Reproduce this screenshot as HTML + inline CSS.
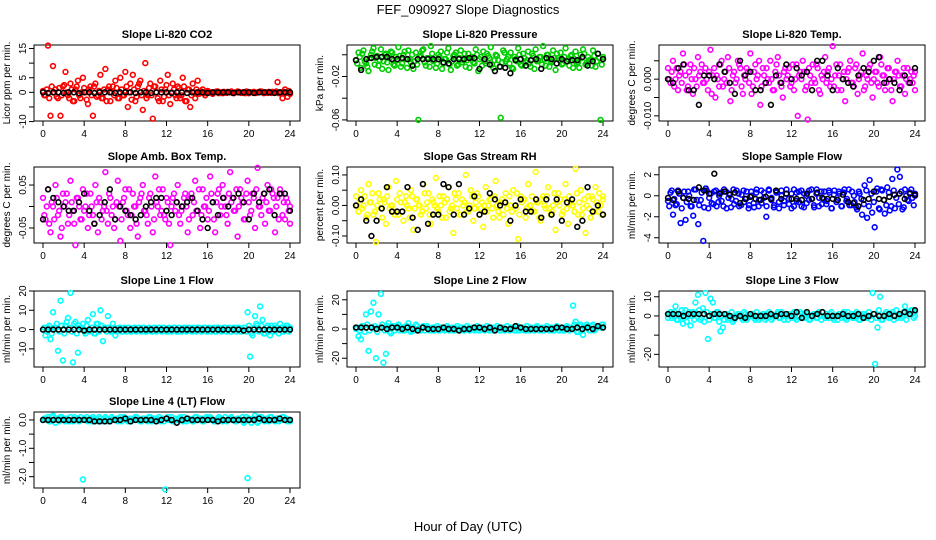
<!DOCTYPE html>
<html><head><meta charset="utf-8"><style>
body{margin:0;background:#fff}
svg{display:block;font-family:"Liberation Sans",sans-serif}
</style></head><body>
<svg id="chart" width="936" height="540" xmlns="http://www.w3.org/2000/svg">
<text x="468" y="14" text-anchor="middle" font-size="13">FEF_090927  Slope Diagnostics</text>
<text x="468" y="531" text-anchor="middle" font-size="13">Hour of Day (UTC)</text>
</svg>
<script>
const hourTicks = [0,4,8,12,16,20,24];
const co2Vals = [0.5,-1,16,-8,9,1,-2,-8,2,7,-1,3,-3,1,4,-2,5,0,-4,2,-8,3,-1,6,-2,8,1,-3,2,4,-2,5,-1,7,-5,3,6,-3,2,4,-6,10,-1,3,-9,2,-2,4,-3,1,6,-4,3,-1,2,-2,5,-3,1,-5,3,-2,4,0,1,-1,0.5,0,-0.5,0,0.3,0,-0.3,0,0.2,0,-0.2,0,0.3,0,0,-0.3,0.2,0,0,-0.2,0,0.3,0,0,-0.2,0,0.2,0,3.5,0,-2,1,-1.5,0];
const co2Vals2 = [-1,1,-2,2,0,-1.5,1.5,-1,2.5,0,-2,1,-3,2,-1,0,1.5,-2.5,1,-1,2,-1.5,0.5,-2,1,-3,2,0,-1,1.5,-2,1,-1,2,0,-2.5,1,-1.5,3,-1,0.5,-2,1.5,-1,2,0,-3,1,-1.5,2.5,-1,0,1,-2,1.5,-1,2,-3,1,-1,0,1,-0.5,0.3,-0.3,0,0.2,-0.2,0,0.3,-0.3,0,0.2,-0.2,0,0.3,-0.3,0,0.2,-0.2,0,0.3,-0.3,0,0.2,-0.2,0,0.3,-0.3,0,0.2,-0.2,0,0.3,-0.3,0,0.2,-0.2,0.5,-0.5];
const co2Black = [0,-0.2,0,0,-0.2,0,0,-0.3,0,0,-0.2,0,0,0,-0.2,0,0,0,-0.2,0,0,-0.2,0,0,0,-0.2,0,0,-0.2,0,0,0,-0.2,0,0,0,0,-0.2,0,0,0,-0.2,0,0,0,-0.2,0,0,0];
const presVals = [-5,2,-12,4,-8,-15,0,6,-3,-10,5,-6,1,-14,3,-9,-2,7,-11,0,-4,4,-7,-13,2,-60,-1,5,-10,-3,8,-6,-12,0,3,-8,-4,6,-14,-1,2,-9,4,-5,-11,1,-3,-7,5,-15,-2,3,-8,-1,7,-12,0,-5,-58,4,-6,-2,2,-13,-4,6,-9,1,-7,3,-11,-1,5,-5,-2,8,-10,0,-6,4,-14,-3,2,-8,6,-4,-1,-12,3,-7,0,5,-9,-2,-5,4,-11,1,-60,-4];
const presVals2 = [-8,-2,1,-6,-11,-3,3,-9,-1,-5,-13,0,-7,-3,2,-10,-5,-1,-8,3,-12,-4,0,-6,-9,-2,4,-7,-3,-11,1,-5,-8,-2,-13,-4,2,-9,-6,0,-10,-3,-7,1,-5,-12,-2,-8,0,-4,-10,-6,1,-3,-9,-5,-1,-11,-7,2,-4,-8,-12,-2,-6,0,-10,-3,-5,-8,1,-13,-6,-2,-9,-4,0,-11,-7,-3,1,-5,-9,-2,-6,-10,0,-4,-8,-12,-3,1,-7,-5,-10,-1,-6,-3,-9,-2];
const presBlack = [-5,-14,-4,-3,-2,-2,-2,-4,-4,-3,-4,-10,-4,-4,-4,-4,-4,-7,-8,-4,-4,-4,-3,-3,-13,-4,-9,-15,-11,-12,-17,-5,-4,-10,-5,-4,-13,-3,-4,-8,-4,-6,-5,-5,-2,-10,-6,1,-4];
const tempVals = [3,-1,5,0,-3,2,7,1,-2,4,-4,0,6,2,-1,3,-3,8,1,-5,0,4,-2,2,6,-6,1,-1,5,3,-4,0,2,7,-2,4,1,-7,3,-1,0,5,-3,2,6,-1,-5,3,1,-2,4,0,-10,2,5,-3,-11,1,4,-1,3,-4,0,6,2,-2,9,1,-3,4,0,-6,2,5,-1,3,-4,1,7,-2,0,4,-5,2,-1,6,1,-3,3,0,-6,2,5,-2,1,-4,3,0,-1,2];
const tempVals2 = [0,2,-2,3,1,-1,4,-3,2,0,3,-2,1,4,-1,0,2,-4,3,1,-2,5,0,-1,3,-3,2,0,4,-2,1,3,-1,-4,2,0,5,-2,1,3,-1,0,-3,4,1,-2,2,0,3,-1,-3,4,1,0,2,-2,3,-1,0,4,-3,1,2,-1,3,0,-2,4,1,-3,2,0,3,-1,-2,4,0,2,-3,1,3,-1,0,2,-2,4,1,-1,3,-3,0,2,1,-2,3,0,-1,2,1,-3];
const tempBlack = [0,-1,3,4,-3,-3,-7,1,1,0,4,2,-1,-4,5,1,2,-3,-3,-1,-7,1,-1,4,0,3,1,2,-3,5,5,1,-3,3,0,-1,-2,1,3,2,5,6,-1,0,-1,-3,1,-1,3];
const ambVals = [2,-3,4,-6,0,5,-2,-7,3,1,-4,6,-1,-9,2,-3,4,0,-5,3,-2,5,-6,1,-1,8,-4,2,0,-3,6,-8,1,4,-2,-5,3,0,-7,2,5,-1,-4,3,-6,7,0,-2,4,-3,1,-9,2,-1,5,-4,0,3,-6,2,-2,6,-1,-5,4,0,-3,7,1,-6,3,-2,5,0,-4,8,2,-1,-7,4,1,-3,6,-2,3,-5,9,0,2,-4,5,-1,3,-6,2,4,-2,-3,1,-4];
const ambVals2 = [-2,0,-4,1,-3,2,-1,-5,0,3,-2,1,-4,2,0,-3,-1,3,-2,0,-4,1,2,-3,0,-1,3,-2,-5,1,0,-3,2,-1,4,-2,0,-4,1,3,-1,-2,2,0,-3,1,4,-1,-2,2,-4,0,3,1,-2,-1,2,0,-3,3,1,-1,4,-2,0,2,-1,3,-3,1,4,0,2,-2,3,1,-1,4,0,2,-3,3,1,-1,2,4,0,-2,3,1,-1,4,2,0,-3,3,1,2,-1,0];
const ambBlack = [-3,4,2,1,0,-1,-1,1,3,-1,-4,-2,1,4,-3,0,-1,-2,-3,-2,0,1,2,2,-1,-2,1,0,1,2,-1,-3,-5,1,-2,2,0,2,3,1,-3,3,1,3,4,-2,3,3,-1];
const rhVals = [3,-2,5,0,-4,7,1,-3,-12,4,-1,2,-6,6,0,-2,8,-3,1,-5,3,-1,5,-8,2,0,-3,7,-1,4,-6,1,9,-2,0,3,-4,6,-1,-9,2,4,-3,0,10,-2,5,-5,1,3,-1,-7,6,0,2,-4,8,-2,1,-3,4,-6,0,5,-1,-11,3,2,-4,7,0,-2,11,1,-5,3,-1,6,-3,0,-8,4,2,-2,7,-6,1,0,12,-3,5,-1,-9,3,-4,2,6,-2,0,3];
const rhVals2 = [0,2,-1,3,-3,1,4,-2,0,2,-4,1,3,-1,0,-3,2,4,-2,1,0,-4,3,-1,2,0,-2,4,1,-3,2,0,-1,3,-4,1,2,-2,0,4,-1,-3,2,1,-2,0,3,-1,4,-3,1,0,-2,2,-1,3,0,-4,2,1,-1,3,-2,0,4,-3,1,2,-1,0,3,-2,1,-4,2,0,3,-1,-2,4,1,0,-3,2,-1,3,0,-2,4,1,-3,2,0,-1,3,-2,1,4,-3,2];
const rhBlack = [0,2,-5,-10,-5,-1,6,-2,-2,-2,6,-4,-8,7,-6,-3,-3,7,6,-3,7,-3,-1,3,-3,-2,4,2,0,1,-5,0,2,-2,-2,2,-4,2,-3,2,-5,1,2,-7,-5,6,-2,0,-3];
const sampVals = [-0.5,0.3,-1.8,-0.9,0.5,-2.6,-0.2,-2.3,0.4,-1,-1.9,0.6,-2.7,-0.4,-4.3,0.7,-1.2,0.2,-0.8,0.5,-0.6,0.3,-1,0.4,-0.2,-1.1,0.6,-0.5,0.2,-0.9,0.5,-0.3,-1.2,0.4,-0.7,0.3,-1,0.5,-0.2,-2,0.6,-0.4,-1.1,0.3,-0.6,0.5,-0.9,0.2,-0.3,-1.2,0.6,-0.5,0.4,-1,0.2,-0.7,0.5,-0.3,-1.1,0.6,-0.2,-0.8,0.4,-0.5,0.3,-1.2,0.5,-0.4,0.2,-1,0.6,-0.3,-0.9,0.4,-0.6,-1.3,0.2,-1.8,1,-2.1,1.5,-1.6,-3,0.7,-1.3,0.5,-1.7,0.8,-1.4,1.6,-1.2,2.5,1.8,-1.3,0.6,-0.4,0.3,-0.2,0];
const sampVals2 = [-1,0.5,-0.3,-0.8,0.2,-1.2,0.4,-0.6,0,-1,0.6,-0.4,-0.9,0.3,-1.1,0.5,-0.2,-0.7,0.4,-1,0,-0.5,0.6,-1.2,0.2,-0.3,-0.8,0.5,-1,0.1,-0.6,0.4,-0.9,0,-1.1,0.6,-0.4,-0.7,0.3,-1,0.5,-0.2,-0.9,0.4,-1.2,0,-0.5,0.6,-0.8,0.2,-1,0.3,-0.6,0.5,-1.1,0,-0.4,0.6,-0.9,0.2,-1,0.4,-0.3,-0.8,0.5,-1.2,0.1,-0.6,0.4,-1,0.3,-0.5,0.6,-0.9,0,-1.1,0.4,-0.3,-0.8,0.5,-1,0.2,-0.6,0.4,-1.2,0.6,-0.4,-0.9,0.3,-1,0.5,-0.2,-0.8,0.4,-1.1,0,-0.5,0.6,-0.9,0.2];
const sampBlack = [-0.2,-0.4,0.4,-0.2,-0.3,-0.4,0.8,0.5,0.2,2.1,0.2,0.4,0.1,0.3,-0.7,-0.3,-0.1,-0.3,-0.4,-0.1,-0.3,0.5,-0.3,0.2,-0.3,-0.3,-0.4,0.2,-0.3,0.3,-0.2,-0.3,-0.3,-0.4,0.1,-0.6,-0.7,-1,-0.4,-0.3,0.4,-0.3,-0.4,-0.1,0.1,0.2,-0.3,0.2,0.1];
const line1Vals = [0,-3,1,-5,9,1,-11,15,-16,2,6,19,-17,4,-12,1,3,-2,5,0,8,-2,3,10,-6,1,7,-1,3,-3,0,1,-1,0.5,1,-1,0,1,-0.5,0,1,-1,0,0.5,-1,1,0,-0.5,1,0,-1,0.5,0,1,-1,0,0.5,-0.5,1,0,-1,0,1,-0.5,0,1,-1,0.5,0,-1,1,0,-0.5,1,0,-1,0.5,0,1,-1,0,1,9,-14,-3,7,2,12,5,-2,2,-3,1,2,0,3,-1,1,2,0];
const line1Vals2 = [1,-1,2,-2,1,3,-1,2,-2,4,1,-1,3,-2,2,1,-1,2,-1,1,-2,3,-1,2,1,-1,1,-1,1,-1,1,-1,1,-1,1,-1,1,-1,1,-1,1,-1,1,-1,1,-1,1,-1,1,-1,1,-1,1,-1,1,-1,1,-1,1,-1,1,-1,1,-1,1,-1,1,-1,1,-1,1,-1,1,-1,1,-1,1,-1,1,-1,1,-1,2,-2,1,3,-1,2,-2,1,-1,2,-1,1,-2,1,-1,2,-1,1];
const line1Black = [0,0,0,0,0,0,0,0,-0.5,0,0,0,0,0,0,0,0,0,0,0,0,0,0,0,0,0,0,0,0,0,0,0,0,0,0,0,0,0,0,-0.5,0,0,0,0,0,0,0,0,0];
const line2Vals = [0,-5,-7,2,10,-15,12,18,-20,10,24,-23,-17,4,-3,2,1,3,0,-1,2,4,-2,1,3,0,-1,2,1,0,-1,1,0.5,-1,1,0,-0.5,1,0,-1,0.5,0,1,-1,0,0.5,-0.5,1,0,-1,0,1,-0.5,0,1,-1,0.5,0,-1,1,0,-0.5,1,0,-1,0.5,0,1,-1,0,1,-0.5,0,1,0,-1,0.5,0,1,-1,0,1,0,-1,0,1,0,16,5,-2,3,-4,1,2,-1,3,0,2,1,3];
const line2Vals2 = [1,-1,2,-2,3,-1,1,2,-2,1,3,-1,2,-2,1,-1,2,-1,1,-1,2,-1,1,-1,2,-1,1,-1,2,-1,1,-1,2,-1,1,-1,2,-1,1,-1,2,-1,1,-1,2,-1,1,-1,2,-1,1,-1,2,-1,1,-1,2,-1,1,-1,2,-1,1,-1,2,-1,1,-1,2,-1,1,-1,2,-1,1,-1,2,-1,1,-1,2,-1,1,-1,2,-1,1,3,-2,2,-1,1,3,-1,2,-1,1,2,3,1];
const line2Black = [1,1,1,1,0,1,0,1,1,0,1,0,-1,1,0,0,0,1,0,0,-1,0,0,1,1,0,1,-1,1,0,0,2,1,0,0,0,0,0,0,1,1,0,0,1,0,1,0,2,1];
const line3Vals = [-1,2,0,5,-2,1,-4,3,0,-5,2,7,11,-2,4,12,-12,9,7,-1,2,-8,-6,1,-2,0,-3,-1,1,0,-2,1,-1,0,1,-2,0,-1,1,-2,0,1,-1,0,2,-1,0,1,-2,0,1,-1,0,2,-1,0,1,-2,0,1,-1,0,2,-1,0,1,-1,0,-2,1,0,-1,2,0,-1,1,0,-2,1,0,-1,0,12,-25,-6,10,-2,1,0,-1,2,0,-1,1,0,5,2,1,3,0];
const line3Vals2 = [1,-1,2,-2,1,3,-1,-3,2,0,-2,1,3,-1,-3,2,-2,1,-1,2,-3,0,-2,1,-1,2,-2,0,1,-1,2,-2,0,1,-1,2,-2,0,1,-1,2,-2,0,1,-1,2,-2,0,1,-1,2,-2,0,1,-1,2,-2,0,1,-1,2,-2,0,1,-1,2,-2,0,1,-1,2,-2,0,1,-1,2,-2,0,1,-1,2,-2,1,-1,3,-2,0,2,-1,1,-2,3,0,-1,2,-2,1,3,-1,2];
const line3Black = [1,1,1,0,1,1,1,1,0,1,1,1,0,-1,0,-1,1,0,0,0,1,0,1,1,0,2,-1,2,0,1,2,0,0,0,1,0,0,1,-1,0,1,0,0,1,0,1,2,1,3];
const line4Vals = [0,0.05,0.1,-0.05,0.15,-0.1,0,0.1,0.05,-0.05,0,0.1,-0.05,0,0.05,0.1,-2.1,0,-0.05,0.05,0.1,0,-0.05,0.05,0,0.1,-0.05,0,0.05,0,-0.05,0.1,0.05,0,-0.05,0.05,0,0.1,0,-0.05,0.05,0,-0.05,0.1,0,0.05,0,-0.05,0.05,-2.45,0.1,0,-0.05,0.05,0,0.1,-0.05,0,0.05,0,-0.05,0.1,0,0.05,-0.05,0,0.05,0.1,0,-0.05,0.05,0,-0.05,0.1,0,0.05,0,-0.05,0.05,0,0.1,-0.05,-2.05,0,0.05,0.15,-0.1,0.1,0,-0.05,0.05,0.1,0,-0.05,0.05,0,0.1,0,-0.05,0];
const line4Vals2 = [0.05,0,-0.05,0.1,0,0.05,-0.05,0.1,0,0.05,-0.05,0,0.1,0.05,-0.05,0,0.05,0.1,0,-0.05,0.05,0,0.1,-0.05,0.05,0,-0.05,0.1,0,0.05,0,-0.05,0.1,0.05,0,-0.05,0.05,0.1,0,-0.05,0.05,0,0.1,-0.05,0,0.05,0.1,0,-0.05,0.05,0,0.1,-0.05,0,0.05,0,0.1,-0.05,0.05,0,-0.05,0.1,0,0.05,-0.05,0.1,0,0.05,-0.05,0,0.1,0.05,0,-0.05,0.05,0.1,0,-0.05,0.05,0,-0.1,0.1,0.05,-0.1,0,0.05,-0.05,0.1,0,0.05,-0.05,0.1,0,0.05,-0.05,0,0.1,0.05,0,-0.05];
const line4Black = [0,0,0,0,0,0,0,0,0,0,-0.05,-0.05,-0.05,-0.05,0,0,0.05,-0.05,0,0,0,0,-0.05,0,0.05,0,-0.1,0,0.05,0,0,0,0,0,-0.05,0,0,0,0,0,0,0,0.05,0,0,0,0.05,0,0];

const panels = [
 {name:'co2',title:'Slope Li-820 CO2',ylab:'Licor ppm per min.',col:0,row:0,color:'#ff0000',vals:co2Vals,vals2:co2Vals2,black:co2Black,scale:1,ymin:-9.8,ymax:16.2,ticks:[-10,-5,0,5,10,15],labels:{'-10':'-10','0':'0','5':'5','15':'15'}},
 {name:'pressure',title:'Slope Li-820 Pressure',ylab:'kPa per min.',col:1,row:0,color:'#00cd00',vals:presVals,vals2:presVals2,black:presBlack,scale:0.001,ymin:-0.061,ymax:0.009,ticks:[-0.06,-0.04,-0.02,0],labels:{'-0.06':'-0.06','-0.02':'-0.02'}},
 {name:'temp',title:'Slope Li-820 Temp.',ylab:'degrees C per min.',col:2,row:0,color:'#ff00ff',vals:tempVals,vals2:tempVals2,black:tempBlack,scale:0.001,ymin:-0.0114,ymax:0.0093,ticks:[-0.01,-0.005,0,0.005],labels:{'-0.01':'-0.010','0':'0.000'}},
 {name:'amb-temp',title:'Slope Amb. Box Temp.',ylab:'degrees C per min.',col:0,row:1,color:'#ff00ff',vals:ambVals,vals2:ambVals2,black:ambBlack,scale:0.01,ymin:-0.085,ymax:0.092,ticks:[-0.05,0,0.05],labels:{'-0.05':'-0.05','0.05':'0.05'}},
 {name:'rh',title:'Slope Gas Stream RH',ylab:'percent per min.',col:1,row:1,color:'#ffff00',vals:rhVals,vals2:rhVals2,black:rhBlack,scale:0.01,ymin:-0.123,ymax:0.126,ticks:[-0.1,-0.05,0,0.05,0.1],labels:{'-0.1':'-0.10','0':'0.00','0.1':'0.10'}},
 {name:'sample-flow',title:'Slope Sample Flow',ylab:'ml/min per min.',col:2,row:1,color:'#0000ff',vals:sampVals,vals2:sampVals2,black:sampBlack,scale:1,ymin:-4.5,ymax:2.74,ticks:[-4,-2,0,2],labels:{'-4':'-4','-2':'-2','0':'0','2':'2'}},
 {name:'line1',title:'Slope Line 1 Flow',ylab:'ml/min per min.',col:0,row:2,color:'#00ffff',vals:line1Vals,vals2:line1Vals2,black:line1Black,scale:1,ymin:-19.4,ymax:20,ticks:[-10,0,10,20],labels:{'-10':'-10','0':'0','10':'10','20':'20'}},
 {name:'line2',title:'Slope Line 2 Flow',ylab:'ml/min per min.',col:1,row:2,color:'#00ffff',vals:line2Vals,vals2:line2Vals2,black:line2Black,scale:1,ymin:-26,ymax:26,ticks:[-20,-10,0,10,20],labels:{'-20':'-20','0':'0','20':'20'}},
 {name:'line3',title:'Slope Line 3 Flow',ylab:'ml/min per min.',col:2,row:2,color:'#00ffff',vals:line3Vals,vals2:line3Vals2,black:line3Black,scale:1,ymin:-26.6,ymax:13,ticks:[-20,-10,0,10],labels:{'-20':'-20','0':'0','10':'10'}},
 {name:'line4',title:'Slope Line 4 (LT) Flow',ylab:'ml/min per min.',col:0,row:3,color:'#00ffff',vals:line4Vals,vals2:line4Vals2,black:line4Black,scale:1,ymin:-2.4,ymax:0.28,ticks:[-2,-1.5,-1,-0.5,0],labels:{'-2':'-2.0','-1':'-1.0','0':'0.0'}}
];

const NS='http://www.w3.org/2000/svg';
const svg=document.getElementById('chart');
const colLeft=[34,347,659], rowTop=[45,167,291,412], W=266, H=76;
function mk(tag,attrs,parent){const e=document.createElementNS(NS,tag);for(const k in attrs)e.setAttribute(k,attrs[k]);(parent||svg).appendChild(e);return e;}

panels.forEach(p=>{
  const L=colLeft[p.col], T=rowTop[p.row], B=T+H;
  const g=mk('g',{});
  
  
  const xs=h=>L+9+h*(247/24);
  const ys=v=>T+(p.ymax-v)/(p.ymax-p.ymin)*H;
  const box=mk('rect',{x:L,y:T,width:W,height:H,fill:'none',stroke:'#000','stroke-width':1},g);
  
  
  const t=mk('text',{x:L+W/2,y:T-7,'text-anchor':'middle','font-size':11,'font-weight':'bold'},g);
  t.textContent=p.title;
  
  
  const yl=mk('text',{x:0,y:0,'text-anchor':'middle','font-size':10,transform:`translate(${L-24},${T+H/2}) rotate(-90)`},g);
  yl.textContent=p.ylab;
  
  
  hourTicks.forEach(h=>{
    mk('line',{x1:xs(h),x2:xs(h),y1:B,y2:B+5,stroke:'#000'},g);
    const tx=mk('text',{x:xs(h),y:B+16,'text-anchor':'middle','font-size':10},g);
    tx.textContent=h;
    
    
  });
  p.ticks.forEach(v=>{
    const y=ys(v);
    mk('line',{x1:L-5,x2:L,y1:y,y2:y,stroke:'#000'},g);
    const lab=p.labels[String(v)];
    if(lab!==undefined){
      const ty=mk('text',{x:0,y:0,'text-anchor':'middle','font-size':10,transform:`translate(${L-8},${y}) rotate(-90)`},g);
      ty.textContent=lab;
      
      
    }
  });
  [p.vals,p.vals2].forEach((arr,k)=>{
    const n=arr.length;
    arr.forEach((v,i)=>{
      const h=Math.min(24,(i+0.5*k)*24/(n-1));
      const c=mk('circle',{cx:xs(h),cy:ys(v*p.scale),r:2.4,fill:'none',stroke:p.color,'stroke-width':1.6},g);
      
      
    });
  });
  const m=p.black.length;
  p.black.forEach((v,i)=>{
    const c=mk('circle',{cx:xs(i*24/(m-1)),cy:ys(v*p.scale),r:2.4,fill:'none',stroke:'#000','stroke-width':1.6},g);
    
    
  });
});
</script>
</body></html>
